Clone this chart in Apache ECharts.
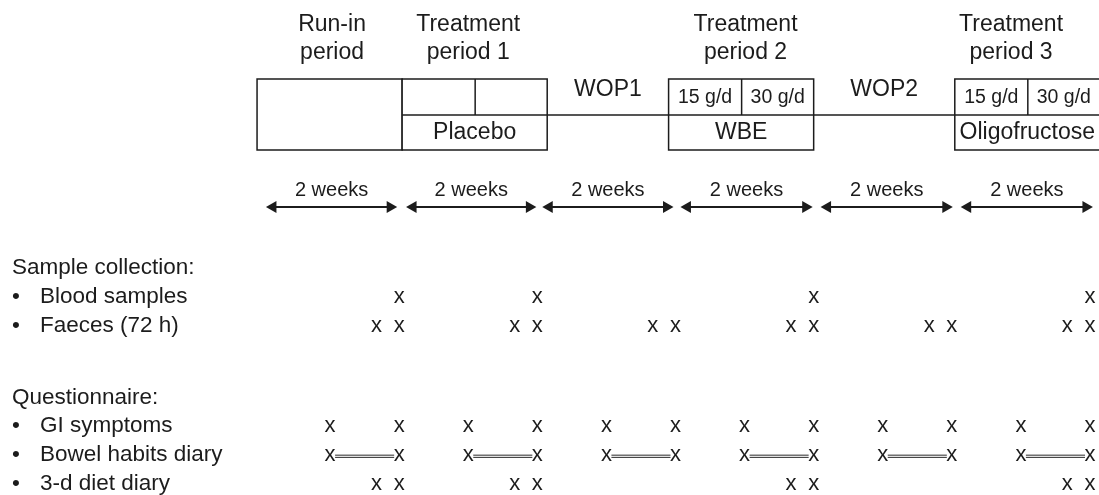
<!DOCTYPE html>
<html><head><meta charset="utf-8">
<script src="https://cdn.jsdelivr.net/npm/echarts@6/dist/echarts.min.js"></script>
<style>html,body{margin:0;padding:0;background:#fff}#c{width:1099px;height:495px}</style>
</head><body><div id="c"></div><script>
// ---- data (study timeline in days) ----
const headerLines = [['Run-in', 'period'], ['Treatment', 'period 1'], ['Treatment', 'period 2'], ['Treatment', 'period 3']];
const headerDay = [7.2, 21.0, 49.1, 76.0];
const boxFrom = [-0.4, 14.3, 41.3, 70.3];
const boxTo = [14.3, 29.0, 56.0, 85.0];
const boxSplit = [null, 21.7, 48.7, 77.7];
const boxDoses = [[], ['', ''], ['15 g/d', '30 g/d'], ['15 g/d', '30 g/d']];
const boxProduct = ['', 'Placebo', 'WBE', 'Oligofructose'];
const washoutNames = ['WOP1', 'WOP2'];
const washoutFrom = [29.0, 56.0];
const washoutTo = [41.3, 70.3];
const spanLabels = ['2 weeks', '2 weeks', '2 weeks', '2 weeks', '2 weeks', '2 weeks'];
const spanFrom = [0.5, 14.7, 28.5, 42.5, 56.7, 70.9];
const spanTo = [13.8, 27.9, 41.8, 55.9, 70.1, 84.3];

const rowLabels = ['Sample collection:', '', 'Blood samples', '', 'Faeces (72 h)', '', '', '', '',
  'Questionnaire:', '', 'GI symptoms', '', 'Bowel habits diary', '', '3-d diet diary'];
const bloodDays = [14, 28, 56, 84];
const faecesDays = [11.7, 14, 25.7, 28, 39.7, 42, 53.7, 56, 67.7, 70, 81.7, 84];
const giDays = [7, 14, 21, 28, 35, 42, 49, 56, 63, 70, 77, 84];
const bowelFrom = [7, 21, 35, 49, 63, 77];
const bowelTo = [14, 28, 42, 56, 70, 84];
const dietDays = [11.7, 14, 25.7, 28, 53.7, 56, 81.7, 84];

// ---- layout / style ----
const L = { header1: 25, header2: 53, boxTop: 79, boxMid: 115, boxBottom: 150, wop: 90, weeks: 190, arrow: 207 };
const FONT = '"Liberation Sans", Arial, Helvetica, sans-serif';
const INK = '#1c1c1c';
const LW = 1.5;

function txt(t, x, y, size) {
  return { type: 'text', x: x, y: y, style: { text: t, fill: INK, fontSize: size, fontFamily: FONT, align: 'center', verticalAlign: 'middle' } };
}
function ln(x1, y1, x2, y2, w, c) {
  return { type: 'line', shape: { x1, y1, x2, y2 }, style: { stroke: c || INK, lineWidth: w || LW } };
}
const rowIdx = name => rowLabels.indexOf(name);

const crossData = [];
bloodDays.forEach(d => crossData.push([d, rowIdx('Blood samples')]));
faecesDays.forEach(d => crossData.push([d, rowIdx('Faeces (72 h)')]));
giDays.forEach(d => crossData.push([d, rowIdx('GI symptoms')]));
bowelFrom.forEach((d, i) => { crossData.push([d, rowIdx('Bowel habits diary')]); crossData.push([bowelTo[i], rowIdx('Bowel habits diary')]); });
dietDays.forEach(d => crossData.push([d, rowIdx('3-d diet diary')]));

const chart = echarts.init(document.getElementById('c'), null, { renderer: 'canvas' });
chart.setOption({
  animation: false,
  backgroundColor: '#fff',
  grid: [
    { left: 261, right: 9, top: 0, height: 250 },
    { left: 261, right: 9, top: 268, height: 216 }
  ],
  xAxis: [
    { gridIndex: 0, type: 'value', min: 0, max: 84, show: false },
    { gridIndex: 1, type: 'value', min: 0, max: 84, show: false }
  ],
  yAxis: [
    { gridIndex: 0, type: 'value', min: 0, max: 250, inverse: true, show: false },
    {
      gridIndex: 1, type: 'category', data: rowLabels, boundaryGap: false, inverse: true,
      axisLine: { show: false }, axisTick: { show: false }, splitLine: { show: false },
      axisLabel: {
        interval: 0, margin: 249, align: 'left', color: INK, fontSize: 22.5, fontFamily: FONT,
        formatter: function (v) {
          if (!v) return '';
          if (v.endsWith(':')) return v;
          return '{b|•}{t|' + v + '}';
        },
        rich: {
          b: { width: 28, fontSize: 22.5, fontFamily: FONT, color: INK, align: 'left' },
          t: { fontSize: 22.5, fontFamily: FONT, color: INK }
        }
      }
    }
  ],
  series: [
    { // washout connecting lines + labels
      type: 'custom', xAxisIndex: 0, yAxisIndex: 0,
      data: washoutFrom.map((f, i) => [f, washoutTo[i]]),
      renderItem: function (params, api) {
        const i = params.dataIndex;
        const p0 = api.coord([washoutFrom[i], L.boxMid]);
        const p1 = api.coord([washoutTo[i], L.boxMid]);
        const yl = api.coord([0, L.wop])[1];
        return { type: 'group', children: [ln(p0[0], p0[1], p1[0], p1[1]), txt(washoutNames[i], (p0[0] + p1[0]) / 2, yl, 23)] };
      }
    },
    { // period boxes
      type: 'custom', xAxisIndex: 0, yAxisIndex: 0,
      data: boxFrom.map((f, i) => [f, boxTo[i]]),
      renderItem: function (params, api) {
        const i = params.dataIndex;
        const tl = api.coord([boxFrom[i], L.boxTop]);
        const br = api.coord([boxTo[i], L.boxBottom]);
        const ym = api.coord([0, L.boxMid])[1];
        const xl = tl[0], yt = tl[1], xr = br[0], yb = br[1];
        const ch = [{ type: 'rect', shape: { x: xl, y: yt, width: xr - xl, height: yb - yt }, style: { fill: '#fff', stroke: INK, lineWidth: LW } }];
        if (boxSplit[i] != null) {
          const xs = api.coord([boxSplit[i], 0])[0];
          ch.push(ln(xl, ym, xr, ym));
          ch.push(ln(xs, yt, xs, ym));
          boxDoses[i].forEach((t, k) => { if (t) ch.push(txt(t, k === 0 ? (xl + xs) / 2 : (xs + xr) / 2, (yt + ym) / 2 + 0.5, 19.5)); });
          if (boxProduct[i]) ch.push(txt(boxProduct[i], (xl + xr) / 2, (ym + yb) / 2, 23));
        }
        return { type: 'group', children: ch };
      }
    },
    { // period headers
      type: 'custom', xAxisIndex: 0, yAxisIndex: 0,
      data: headerDay.map(d => [d, L.header1]),
      renderItem: function (params, api) {
        const i = params.dataIndex;
        const p1 = api.coord([headerDay[i], L.header1]);
        const p2 = api.coord([headerDay[i], L.header2]);
        return { type: 'group', children: [txt(headerLines[i][0], p1[0], p1[1], 23), txt(headerLines[i][1], p2[0], p2[1], 23)] };
      }
    },
    { // duration arrows
      type: 'custom', xAxisIndex: 0, yAxisIndex: 0,
      data: spanFrom.map((f, i) => [f, spanTo[i]]),
      renderItem: function (params, api) {
        const i = params.dataIndex;
        const p0 = api.coord([spanFrom[i], L.arrow]);
        const p1 = api.coord([spanTo[i], L.arrow]);
        const yl = api.coord([0, L.weeks])[1];
        const y = p0[1], hl = 10.5, hw = 6;
        return { type: 'group', children: [
          ln(p0[0] + 6, y, p1[0] - 6, y, 2),
          { type: 'polygon', shape: { points: [[p0[0], y], [p0[0] + hl, y - hw], [p0[0] + hl, y + hw]] }, style: { fill: INK } },
          { type: 'polygon', shape: { points: [[p1[0], y], [p1[0] - hl, y - hw], [p1[0] - hl, y + hw]] }, style: { fill: INK } },
          txt(spanLabels[i], (p0[0] + p1[0]) / 2, yl, 20)
        ] };
      }
    },
    { // bowel diary connecting lines
      type: 'custom', xAxisIndex: 1, yAxisIndex: 1,
      data: bowelFrom.map((f, i) => [f, rowIdx('Bowel habits diary')]),
      renderItem: function (params, api) {
        const i = params.dataIndex;
        const r = rowIdx('Bowel habits diary');
        const p0 = api.coord([bowelFrom[i], r]);
        const p1 = api.coord([bowelTo[i], r]);
        const y = p0[1] + 1.5;
        return { type: 'group', children: [
          ln(p0[0] + 5, y - 1.1, p1[0] - 5, y - 1.1, 1, '#2a2a2a'),
          ln(p0[0] + 5, y + 1.1, p1[0] - 5, y + 1.1, 1, '#2a2a2a')
        ] };
      }
    },
    { // crosses
      type: 'custom', xAxisIndex: 1, yAxisIndex: 1,
      data: crossData,
      renderItem: function (params, api) {
        const d = crossData[params.dataIndex];
        const p = api.coord([d[0], d[1]]);
        return txt('x', p[0], p[1], 22);
      }
    }
  ]
});
</script></body></html>
